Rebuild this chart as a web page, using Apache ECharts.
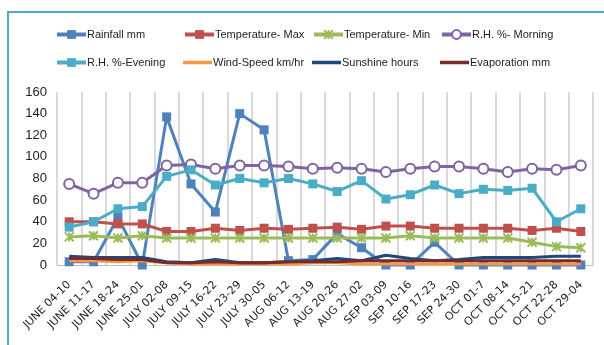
<!DOCTYPE html>
<html><head><meta charset="utf-8">
<script src="https://cdn.jsdelivr.net/npm/echarts@6/dist/echarts.min.js"></script>
<style>html,body{margin:0;padding:0;background:#fff}#c{width:604px;height:345px}</style>
</head><body><div id="c"></div>
<script>
var categories = ["JUNE 04-10","JUNE 11-17","JUNE 18-24","JUNE 25-01","JULY 02-08","JULY 09-15","JULY 16-22","JULY 23-29","JULY 30-05","AUG 06-12","AUG 13-19","AUG 20-26","AUG 27-02","SEP 03-09","SEP 10-16","SEP 17-23","SEP 24-30","OCT 01-7","OCT 08-14","OCT 15-21","OCT 22-28","OCT 29-04"];
var rainfall    = [3,3,44,0,137,75,49,140,125,4,5,29,16,0,0,21,0,0,0,0,0,0];
var tempMax     = [40,40,38,38,31,31,34,32,34,33,34,35,33,36,36,34,34,34,34,32,34,31];
var tempMin     = [26,27,25,27,25,25,25,25,25,25,25,25,25,25,27,25,25,25,25,21,17,16];
var rhMorning   = [75,66,76,76,92,93,89,92,92,91,89,90,89,86,89,91,91,89,86,89,88,92];
var rhEvening   = [35,40,52,54,82,88,74,80,76,80,75,68,78,61,65,74,66,70,69,71,40,52];
var windSpeed   = [4,4,3,4,2,1,1,1,1,1,2,2,1,1,1,1,1,1,1,1,1,1];
var sunshine    = [8,7,7,7,3,2,5,2,2,3,4,6,4,9,6,4,5,7,7,7,8,8];
var evaporation = [6,6,5,5,2,2,3,2,2,3,3,3,4,4,4,4,4,4,4,4,4,4];
var yTicks = {min:0, max:160, interval:20};

var names = ["Rainfall mm","Temperature- Max","Temperature- Min","R.H. %- Morning","R.H. %-Evening","Wind-Speed km/hr","Sunshine hours","Evaporation mm"];
var colors = ["#4F81BD","#C0504D","#9BBB59","#8064A2","#4BACC6","#F79646","#1F497D","#772C2A"];
var datas = [rainfall,tempMax,tempMin,rhMorning,rhEvening,windSpeed,sunshine,evaporation];
var symbols = ["rect","rect","path://M0,0L10,10M10,0L0,10M5,0L5,10","emptyCircle","rect","none","none","none"];
var legendPos = [[55,29],[183,29],[312,29],[440,29],[55,57],[183,57],[312,57],[440,57]];
var font = "'Liberation Sans',Arial,sans-serif";
var lineIcon = 'path://M0,0L0.01,0M0,3.8h29v3.4h-29zM0,11L0.01,11';

var series = names.map(function(n,i){
  var s = {name:n, type:'line', data:datas[i], symbol:symbols[i], symbolSize:9, clip:false,
    lineStyle:{color:colors[i], width:3}, itemStyle:{color:colors[i]}, z:2+i};
  if(i===2){ s.itemStyle = {color:colors[i], borderColor:colors[i], borderWidth:2}; }
  if(i===3){ s.symbolSize=10; s.itemStyle = {color:colors[i], borderColor:colors[i], borderWidth:2}; }
  if(symbols[i]==='none'){ s.showSymbol=false; }
  return s;
});

var legends = names.map(function(n,i){
  var plain = symbols[i]==='none';
  return {data:[plain ? {name:n, icon:lineIcon, itemStyle:{color:colors[i]}} : n], left:legendPos[i][0], top:legendPos[i][1],
    padding:0, itemWidth:29, itemHeight:11, itemGap:2,
    lineStyle:{width:4},
    textStyle:{fontFamily:font, fontSize:11, color:'#222', padding:[0,0,0,-4]}};
});

var chart = echarts.init(document.getElementById('c'));
chart.setOption({
  animation:false,
  color:colors,
  graphic:[{type:'rect', shape:{x:8,y:12,width:640,height:400}, style:{fill:'none', stroke:'#4BACC6', lineWidth:2}, silent:true}],
  legend:legends,
  grid:{left:57, right:11, top:92, bottom:80},
  xAxis:{type:'category', data:categories, boundaryGap:true,
    axisLine:{lineStyle:{color:'#BFBFBF', width:1}}, axisTick:{show:false},
    splitLine:{show:true, lineStyle:{color:'#D9D9D9', width:2}},
    axisLabel:{interval:0, rotate:45, fontFamily:"'DejaVu Sans',sans-serif", fontSize:11, color:'#222', margin:18}},
  yAxis:{type:'value', min:yTicks.min, max:yTicks.max, interval:yTicks.interval,
    axisLine:{show:false}, axisTick:{show:false}, splitLine:{show:false},
    axisLabel:{fontFamily:font, fontSize:13, color:'#222', margin:10}},
  series:series
});
</script></body></html>
